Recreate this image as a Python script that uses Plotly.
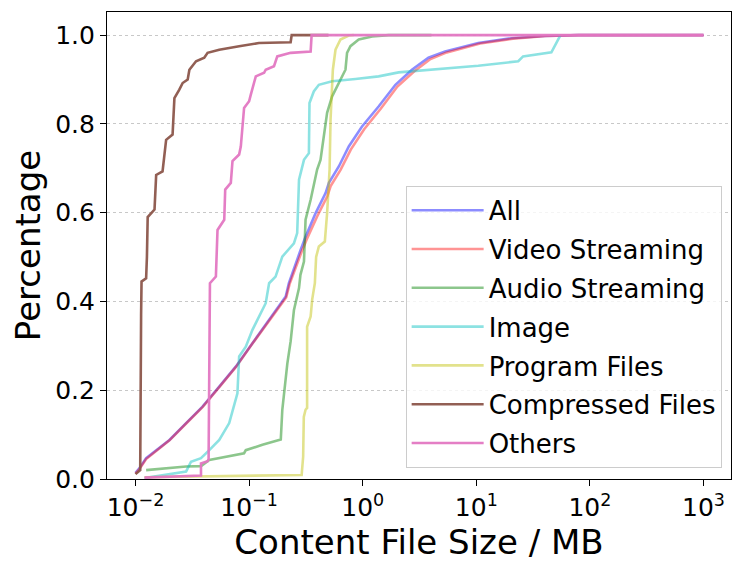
import plotly.graph_objects as go

# CDF of content file size per category (x in MB, y = cumulative share)
all_x = [0.0100, 0.0108, 0.0124, 0.0199, 0.0279, 0.0389, 0.0546, 0.0763, 0.107, 0.150, 0.210, 0.224, 0.257, 0.284,
         0.314, 0.385, 0.471, 0.504, 0.616, 0.754, 0.986, 1.38, 1.94, 2.71, 3.79, 5.31, 10.4, 20.4, 40.1, 78.5, 1000]
all_y = [0.014, 0.024, 0.047, 0.088, 0.126, 0.163, 0.208, 0.253, 0.306, 0.359, 0.411, 0.441, 0.486, 0.516,
         0.546, 0.599, 0.644, 0.667, 0.704, 0.749, 0.794, 0.839, 0.888, 0.922, 0.949, 0.963, 0.982, 0.993, 0.998, 1.0, 1.0]

video_x = [0.0100, 0.0108, 0.0124, 0.0199, 0.0279, 0.0389, 0.0546, 0.0763, 0.107, 0.150, 0.212, 0.227, 0.262, 0.290,
           0.322, 0.398, 0.488, 0.522, 0.640, 0.785, 1.03, 1.44, 2.02, 2.83, 3.95, 5.5, 10.8, 21.0, 41.0, 80.0, 1000]
video_y = [0.012, 0.022, 0.045, 0.087, 0.125, 0.162, 0.207, 0.252, 0.305, 0.357, 0.409, 0.439, 0.484, 0.512,
           0.540, 0.592, 0.637, 0.660, 0.697, 0.742, 0.788, 0.834, 0.884, 0.918, 0.946, 0.961, 0.981, 0.992, 0.998, 1.0, 1.0]

audio_x = [0.0124, 0.0279, 0.0377, 0.0446, 0.0903, 0.0935, 0.131, 0.190, 0.196, 0.203, 0.217, 0.232, 0.248, 0.275,
           0.283, 0.304, 0.314, 0.348, 0.397, 0.425, 0.471, 0.486, 0.538, 0.595, 0.658, 0.705, 0.728, 0.780, 0.923,
           1.21, 1.69, 4.03]
audio_y = [0.020, 0.028, 0.029, 0.043, 0.058, 0.065, 0.077, 0.089, 0.156, 0.197, 0.260, 0.310, 0.380, 0.430,
           0.460, 0.490, 0.584, 0.629, 0.697, 0.719, 0.794, 0.825, 0.862, 0.885, 0.907, 0.922, 0.960, 0.975, 0.990,
           0.997, 1.0, 1.0]

image_x = [0.0120, 0.0279, 0.0308, 0.0377, 0.0446, 0.0546, 0.0668, 0.0738, 0.0789, 0.0817, 0.0935, 0.107, 0.122,
           0.140, 0.150, 0.171, 0.196, 0.248, 0.265, 0.275, 0.304, 0.336, 0.340, 0.371, 0.411, 0.538, 0.863, 1.38,
           2.07, 5.31, 10.4, 23.4, 25.8, 45.8, 49.0, 54.2, 55.1]
image_y = [0.002, 0.017, 0.039, 0.047, 0.065, 0.088, 0.126, 0.163, 0.193, 0.276, 0.298, 0.336, 0.366,
           0.396, 0.441, 0.456, 0.501, 0.531, 0.554, 0.674, 0.719, 0.734, 0.847, 0.873, 0.888, 0.896, 0.901, 0.907,
           0.916, 0.924, 0.931, 0.941, 0.952, 0.961, 0.975, 0.997, 1.0]

program_x = [0.0120, 0.290, 0.299, 0.303, 0.314, 0.324, 0.324, 0.348, 0.359, 0.379, 0.389, 0.411, 0.464, 0.486,
             0.511, 0.521, 0.546, 0.576, 0.637, 0.754, 0.834]
program_y = [0.004, 0.009, 0.050, 0.140, 0.156, 0.160, 0.343, 0.366, 0.404, 0.441, 0.500, 0.524, 0.535, 0.599,
             0.697, 0.809, 0.922, 0.967, 0.990, 0.999, 1.0]

compressed_x = [0.0100, 0.0104, 0.0110, 0.0112, 0.0113, 0.0116, 0.0124, 0.0126, 0.0128, 0.0147, 0.0152, 0.0173,
                0.0186, 0.0212, 0.0220, 0.0243, 0.0260, 0.0288, 0.0298, 0.0341, 0.0403, 0.0431, 0.0546, 0.0817,
                0.122, 0.232, 0.237, 0.5]
compressed_y = [0.011, 0.015, 0.020, 0.370, 0.445, 0.447, 0.452, 0.500, 0.590, 0.607, 0.685, 0.693,
                0.764, 0.776, 0.858, 0.877, 0.892, 0.900, 0.922, 0.941, 0.949, 0.960, 0.967, 0.975,
                0.982, 0.984, 1.0, 1.0]

others_x = [0.0120, 0.0377, 0.0377, 0.0431, 0.0440, 0.0452, 0.0510, 0.0516, 0.0527, 0.0604, 0.0616, 0.0690, 0.0714,
            0.0817, 0.0845, 0.0903, 0.100, 0.1035, 0.1145, 0.1355, 0.140, 0.1656, 0.177, 0.232, 0.348, 0.355, 1000]
others_y = [0.003, 0.008, 0.035, 0.040, 0.045, 0.441, 0.456, 0.494, 0.561, 0.584, 0.652, 0.667, 0.716,
            0.731, 0.749, 0.836, 0.851, 0.866, 0.907, 0.915, 0.922, 0.930, 0.952, 0.960, 0.963, 1.0, 1.0]

series = [
    ("All", all_x, all_y, "rgba(0,0,255,0.45)"),
    ("Video Streaming", video_x, video_y, "rgba(255,0,0,0.42)"),
    ("Audio Streaming", audio_x, audio_y, "rgba(0,128,0,0.45)"),
    ("Image", image_x, image_y, "rgba(0,191,191,0.45)"),
    ("Program Files", program_x, program_y, "rgba(191,191,0,0.45)"),
    ("Compressed Files", compressed_x, compressed_y, "rgba(140,86,75,0.95)"),
    ("Others", others_x, others_y, "rgba(227,119,194,0.95)"),
]

fig = go.Figure()
for name, xs, ys, col in series:
    fig.add_trace(go.Scatter(x=xs, y=ys, mode="lines", name=name, legendgroup=name,
                             line=dict(color=col, width=2.6)))

tick_vals = [0.01, 0.1, 1, 10, 100, 1000]
tick_text = ["10<sup>\u22122</sup>", "10<sup>\u22121</sup>", "10<sup>0</sup>",
             "10<sup>1</sup>", "10<sup>2</sup>", "10<sup>3</sup>"]

# page body has an 8px margin, so the margins are shifted to compensate
fig.update_layout(
    width=747, height=572,
    margin=dict(l=99, r=24, t=4, b=101),
    paper_bgcolor="white", plot_bgcolor="white",
    font=dict(family="DejaVu Sans", color="black", size=25),
    legend=dict(x=0.985, y=0.024, xanchor="right", yanchor="bottom",
                bgcolor="rgba(255,255,255,0.8)", bordercolor="#cccccc", borderwidth=1,
                font=dict(size=26), itemwidth=72, tracegroupgap=2),
)
fig.update_xaxes(type="log", range=[-2.251, 3.242], tickvals=tick_vals, ticktext=tick_text,
                 showgrid=False, showline=True, linecolor="black", linewidth=1.2, mirror=True,
                 ticks="outside", ticklen=6, tickcolor="black", tickfont=dict(size=25), automargin=False,
                 title=dict(text="Content File Size / MB", font=dict(size=34), standoff=8))
fig.update_yaxes(range=[0, 1.052], tickvals=[0, 0.2, 0.4, 0.6, 0.8, 1.0], tickformat=".1f",
                 showgrid=True, gridcolor="#c8c8c8", griddash="dot", gridwidth=0.8,
                 showline=True, linecolor="black", linewidth=1.2, mirror=True, zeroline=False,
                 ticks="outside", ticklen=6, tickcolor="black", tickfont=dict(size=25), automargin=False,
                 title=dict(text="Percentage", font=dict(size=34), standoff=12))

fig.write_html("out.html")
